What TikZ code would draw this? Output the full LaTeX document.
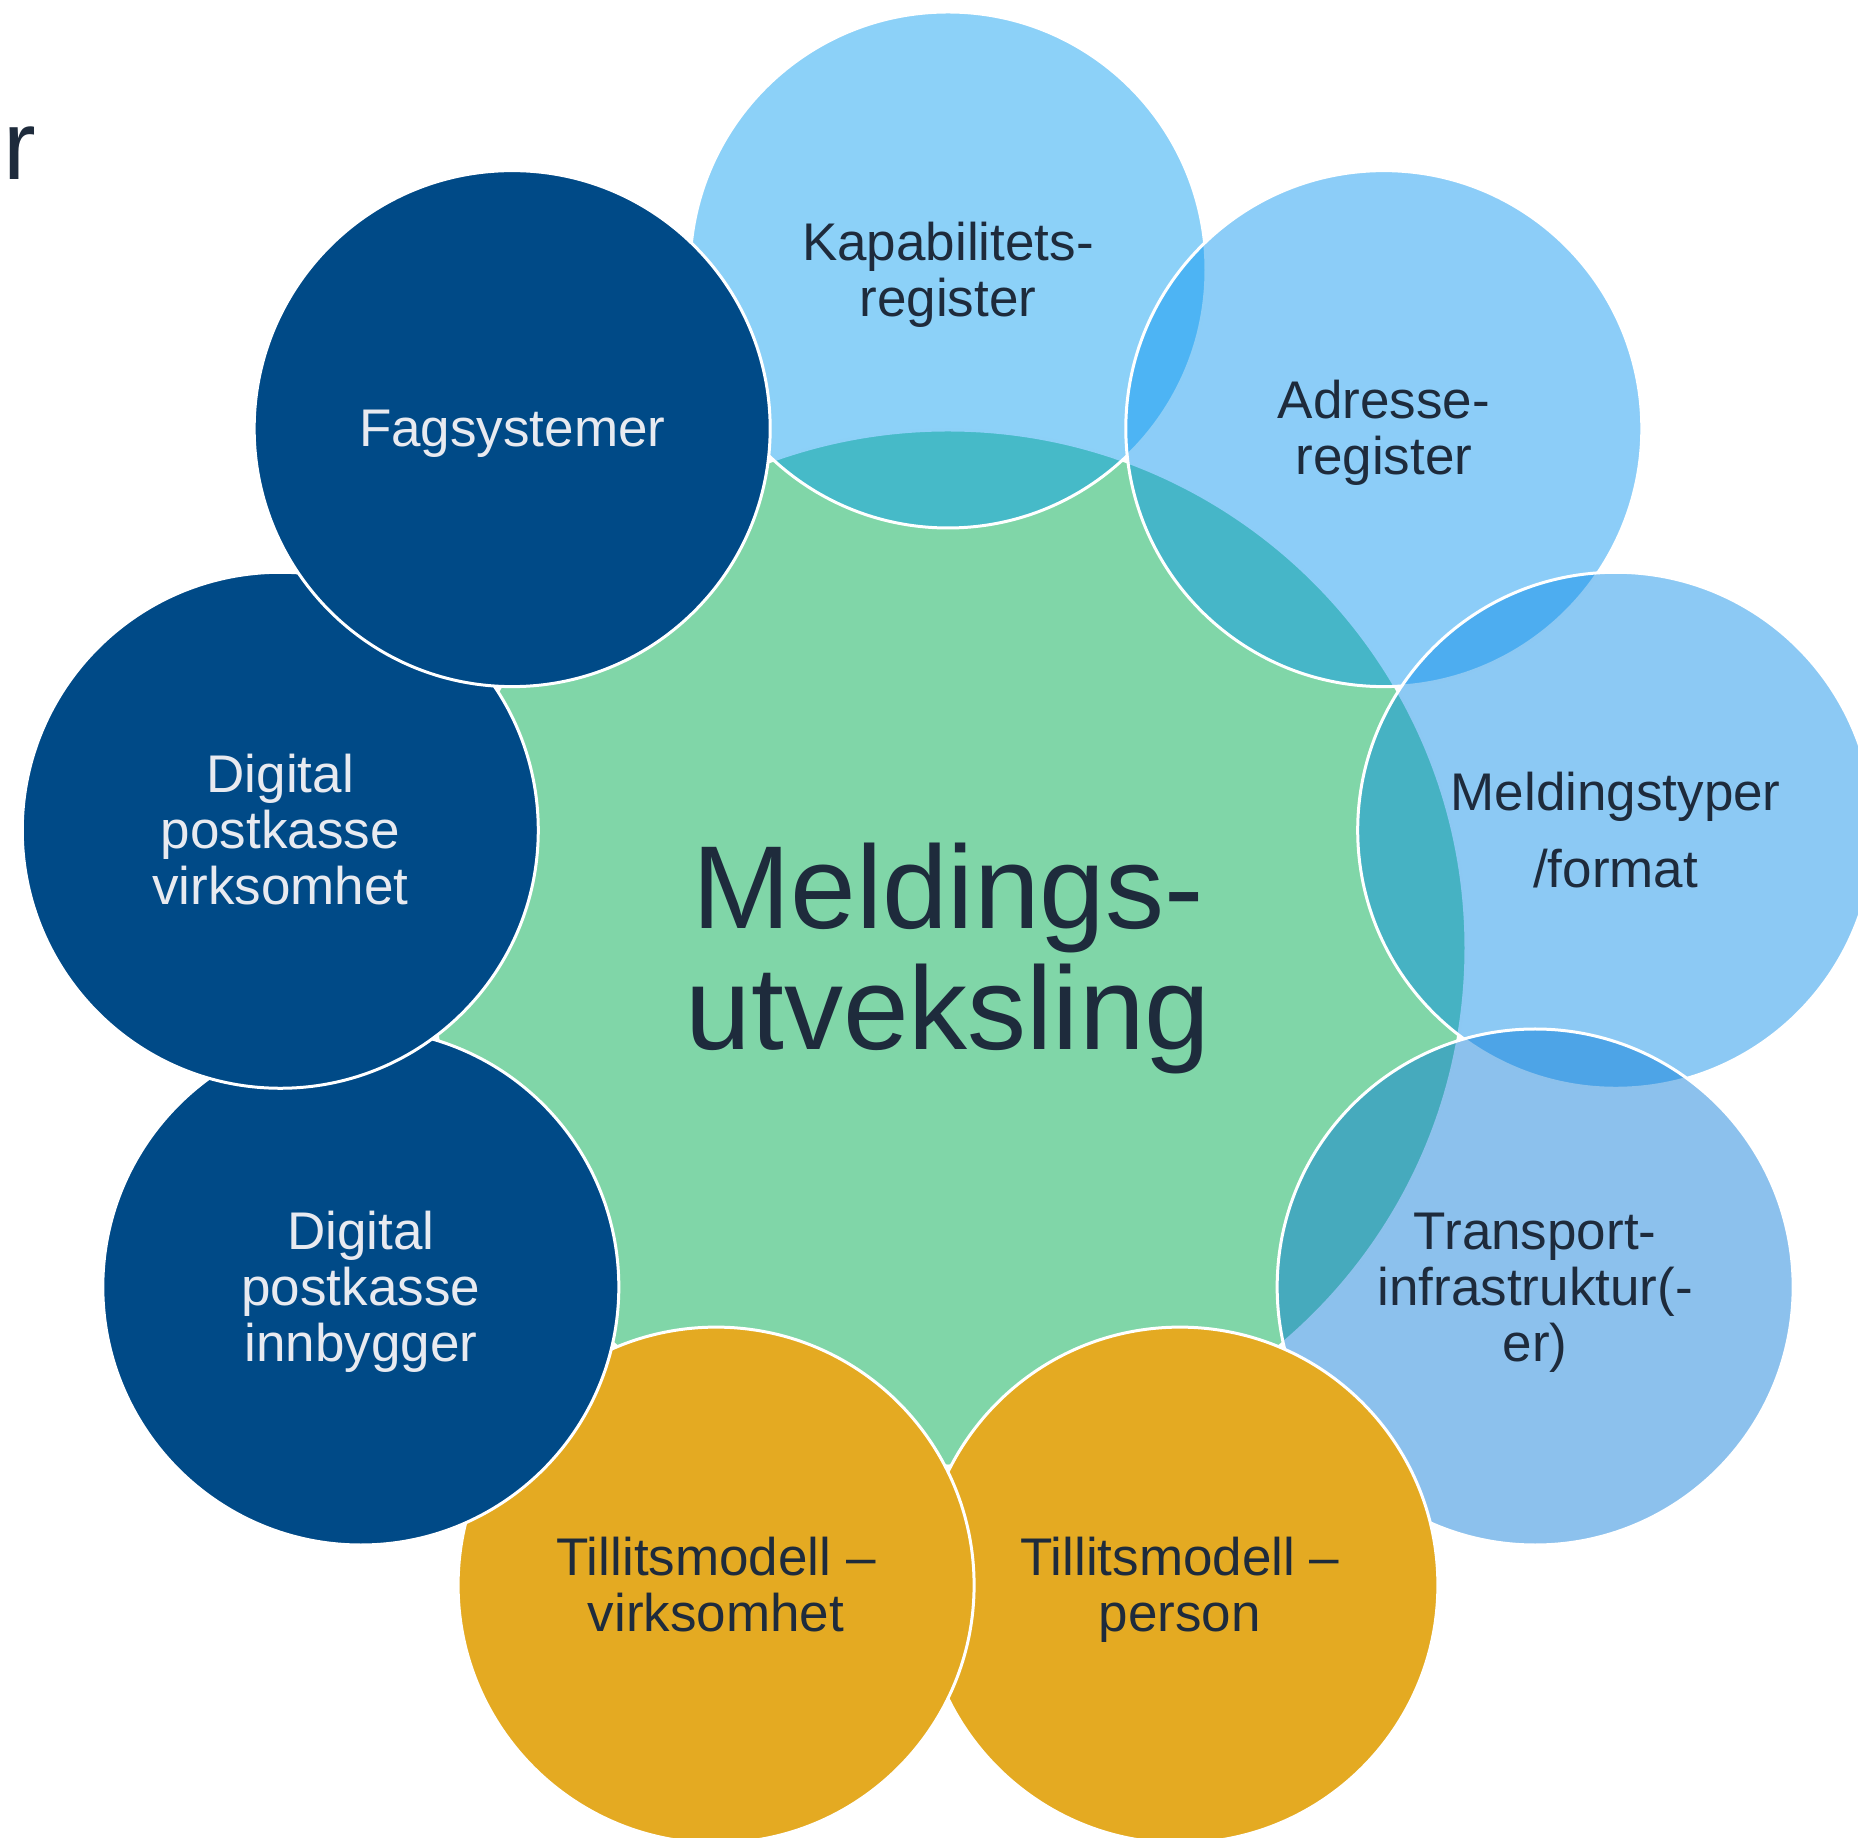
\documentclass[tikz,border=0pt]{standalone}
\usepackage{fontspec}
\setmainfont{Liberation Sans}
\usepackage{tikz}
\definecolor{ink}{RGB}{30,43,60}
\definecolor{pale}{RGB}{232,234,240}
\definecolor{grn}{RGB}{128,214,168}
\definecolor{navy}{RGB}{0,74,135}
\definecolor{ochre}{RGB}{228,170,34}
\definecolor{blA}{RGB}{0,152,239}
\definecolor{blB}{RGB}{0,145,239}
\definecolor{blC}{RGB}{0,135,230}
\definecolor{blD}{RGB}{0,118,215}
\newcommand{\pptop}{\rule{0pt}{.905em}}
\newcommand{\ppbot}{\rule[-.212em]{0pt}{.212em}}
\tikzset{l/.style={font=\fontsize{53}{56}\selectfont, align=center}}
\tikzset{ob/.style={circle, draw=white, line width=3pt, minimum size=516pt, inner sep=0pt, l}}
\tikzset{lb/.style={ob, fill=#1, fill opacity=0.45, text opacity=1, text=ink}}
\tikzset{db/.style={ob, fill=navy, text=pale}}
\tikzset{gb/.style={ob, fill=ochre, text=ink}}

\begin{document}
\begin{tikzpicture}[x=1pt,y=1pt]
  \useasboundingbox (-948,948) rectangle (910,-890);
  \node[anchor=base west, inner sep=0pt, text=ink, font=\fontsize{98}{98}\selectfont] (ttl) at (-945,768) {r};
  \node[circle, fill=grn, draw=white, line width=3pt, minimum size=1036pt, inner sep=0pt,
        l, text=ink, font=\fontsize{118}{121}\selectfont] (mu) at (0,0) {\pptop Meldings-\\utveksling\ppbot};
  \node[lb=blA] (kap) at (90:678) {\pptop Kapabilitets-\\register\ppbot};
  \node[lb=blB] (adr) at (50:678) {\pptop Adresse-\\register\ppbot};
  \node[lb=blC] (mel) at (10:678) {\pptop Meldingstyper\\[21pt]/format\ppbot};
  \node[lb=blD] (tra) at (-30:678) {\pptop Transport-\\infrastruktur(-\\er)\ppbot};
  \node[gb] (per) at (-70:678) {\pptop Tillitsmodell –\\person\ppbot};
  \node[gb] (vir) at (-110:678) {\pptop Tillitsmodell –\\virksomhet\ppbot};
  \node[db] (inn) at (-150:678) {\pptop Digital\\postkasse\\innbygger\ppbot};
  \node[db] (dpv) at (170:678) {\pptop Digital\\postkasse\\virksomhet\ppbot};
  \node[db] (fag) at (130:678) {\pptop Fagsystemer\ppbot};
\end{tikzpicture}
\end{document}
